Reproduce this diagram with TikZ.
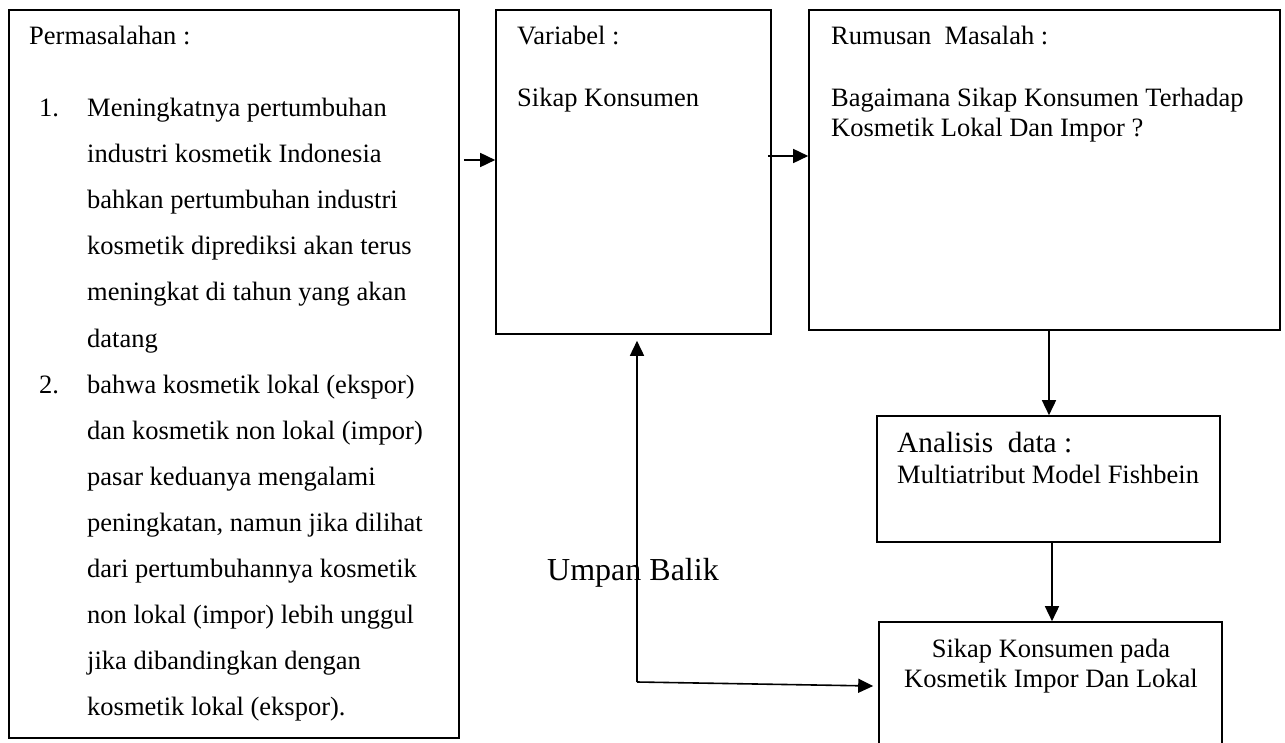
\documentclass[tikz,border=0pt]{standalone}
\usepackage{fontspec}
\setmainfont{Liberation Serif}
\usetikzlibrary{arrows.meta,calc}
\begin{document}
\begin{tikzpicture}[x=1pt,y=-1pt,
  box/.style={draw,line width=1.6pt,inner sep=0pt},
  txt/.style={anchor=base west,inner sep=0pt,font=\fontsize{26.5}{30}\selectfont},
  ctxt/.style={anchor=base,inner sep=0pt,font=\fontsize{26.5}{30}\selectfont},
  arr/.style={line width=1.6pt,-{Triangle[length=15pt,width=14pt]}}]
\useasboundingbox (0,0) rectangle (1285,743);
\fill[white] (0,0) rectangle (1285,743);
\clip (0,0) rectangle (1285,743);

% boxes
\node[box,minimum width=450pt,minimum height=728pt] (L) at (234,374) {};
\node[box,minimum width=275pt,minimum height=324pt] (V) at (633.5,172) {};
\node[box,minimum width=471pt,minimum height=320pt] (R) at (1044.5,170) {};
\node[box,minimum width=343pt,minimum height=126pt] (A) at (1048.5,479) {};
\node[box,minimum width=343pt,minimum height=160pt] (S) at (1050.5,702) {};

% left box text
\node[txt] (ptitle) at (29,45) {Permasalahan :};
\node[txt] (n1) at (39,117) {1.};
\node[txt] (n2) at (39,393) {2.};
\foreach \t [count=\i] in {
  {Meningkatnya pertumbuhan},
  {industri kosmetik Indonesia},
  {bahkan pertumbuhan industri},
  {kosmetik diprediksi akan terus},
  {meningkat di tahun yang akan},
  {datang},
  {bahwa kosmetik lokal (ekspor)},
  {dan kosmetik non lokal (impor)},
  {pasar keduanya mengalami},
  {peningkatan, namun jika dilihat},
  {dari pertumbuhannya kosmetik},
  {non lokal (impor) lebih unggul},
  {jika dibandingkan dengan},
  {kosmetik lokal (ekspor).}}
  \node[txt] (line\i) at (87,{117+46*(\i-1)}) {\t};

% Variabel
\node[txt] (vtitle) at (517,45) {Variabel :};
\node[txt] (vtext) at (517,107) {Sikap Konsumen};

% Rumusan
\node[txt] (rtitle) at (831,45) {Rumusan\ \ Masalah :};
\node[txt] (rtext1) at (831,107) {Bagaimana Sikap Konsumen Terhadap};
\node[txt] (rtext2) at (831,137) {Kosmetik Lokal Dan Impor ?};

% Analisis
\node[txt,font=\fontsize{29.3}{33}\selectfont] (atitle) at (897,452) {Analisis\ \ data :};
\node[txt] (atext) at (897,483) {Multiatribut Model Fishbein};

% Sikap
\node[ctxt] (stext1) at (1051,657) {Sikap Konsumen pada};
\node[ctxt] (stext2) at (1051,687) {Kosmetik Impor Dan Lokal};

% feedback label
\node[txt,font=\fontsize{32}{36}\selectfont] (umpan) at (547,580) {Umpan Balik};

% arrows
\draw[arr] ([xshift=4pt]L.east |- 0,160) -- (V.west |- 0,160);
\draw[arr] ([xshift=-4pt]V.east |- 0,156) -- (R.west |- 0,156);
\draw[arr] (R.south -| 1049,0) -- (A.north -| 1049,0);
\draw[arr] (A.south -| 1052,0) -- (S.north -| 1052,0);
\coordinate (fb) at (637,682);
\draw[arr] (fb) -- ([yshift=-6pt]V.south -| fb);
\draw[arr] (fb) -- ([xshift=-5pt]S.west |- 0,686);
\end{tikzpicture}
\end{document}
